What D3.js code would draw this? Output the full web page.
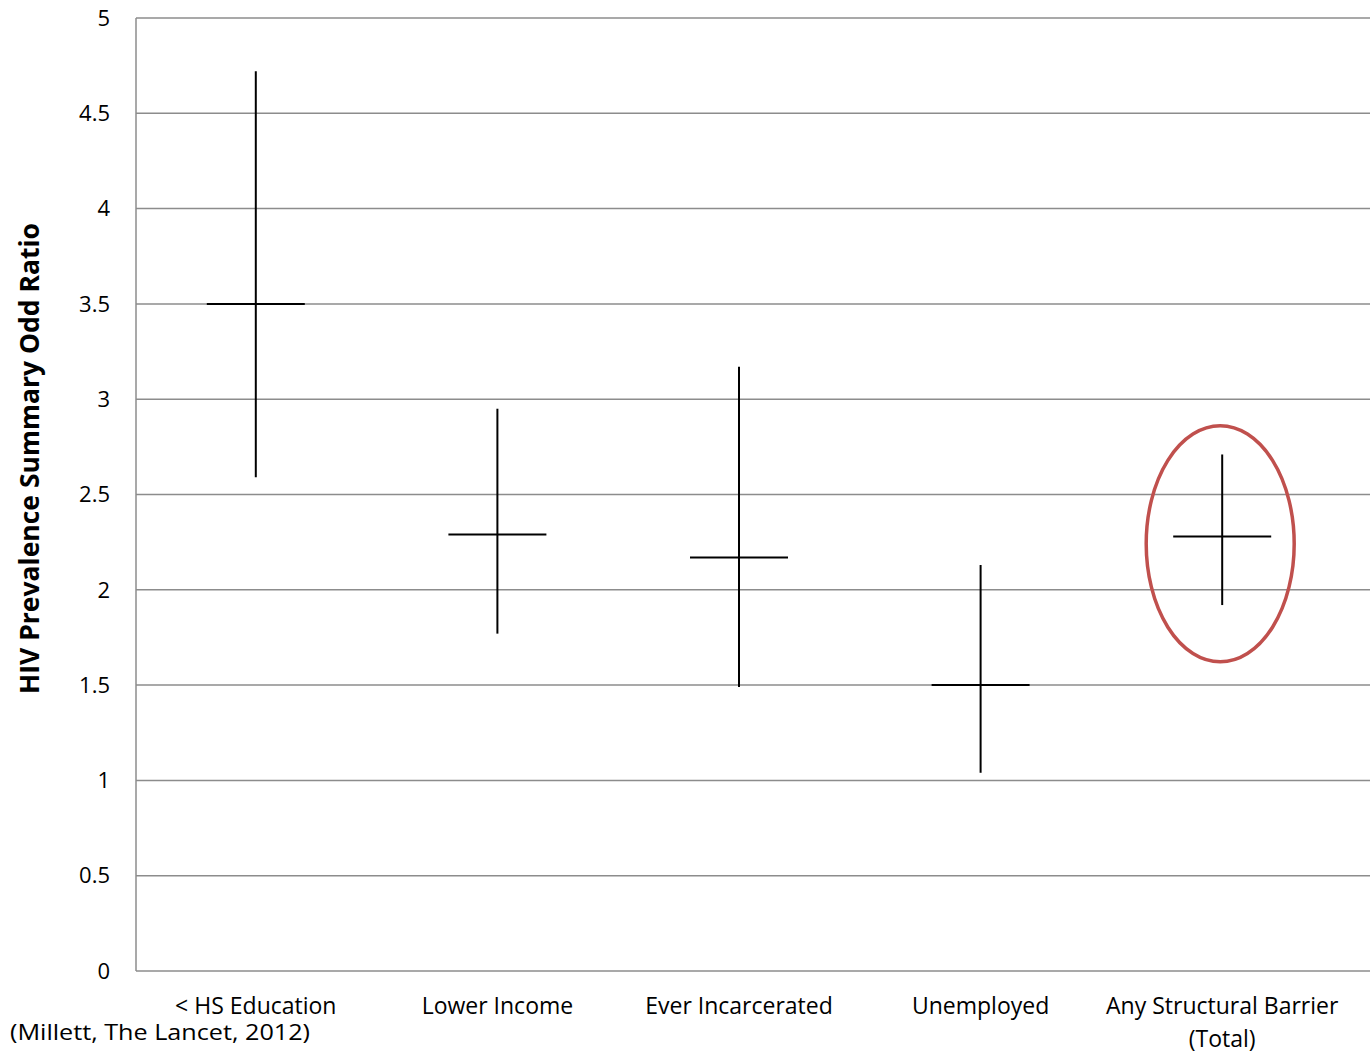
<!DOCTYPE html>
<html>
<head>
<meta charset="utf-8">
<script src="https://cdn.jsdelivr.net/npm/d3@7"></script>
<style>
  html, body { margin: 0; padding: 0; background: #fff; }
  svg { display: block; }
  text { font-family: "Open Sans", "Noto Sans", sans-serif; fill: #000; }
</style>
</head>
<body>
<svg id="chart" width="1370" height="1053"></svg>
<script>
// Summary odds ratios with confidence interval bounds per structural barrier
const categories = ["< HS Education", "Lower Income", "Ever Incarcerated", "Unemployed", "Any Structural Barrier|(Total)"];
const oddsRatio = [3.50, 2.29, 2.17, 1.50, 2.28];
const ciHigh    = [4.72, 2.95, 3.17, 2.13, 2.71];
const ciLow     = [2.59, 1.77, 1.49, 1.04, 1.92];
const yTicks    = [0, 0.5, 1, 1.5, 2, 2.5, 3, 3.5, 4, 4.5, 5];
const highlighted = "Any Structural Barrier|(Total)";

const svg = d3.select("#chart");
const plotLeft = 136, plotRight = 1370, plotTop = 18, plotBottom = 971;

const x = d3.scaleBand().domain(categories).range([135, 1343]);
const y = d3.scaleLinear().domain([0, 5]).range([plotBottom, plotTop]);

// Horizontal gridlines
svg.append("g").selectAll("line").data(yTicks).join("line")
  .attr("x1", plotLeft).attr("x2", plotRight)
  .attr("y1", d => y(d)).attr("y2", d => y(d))
  .attr("stroke", "#8c8c8c").attr("stroke-width", 1.5);

// Left axis line
svg.append("line")
  .attr("x1", plotLeft).attr("x2", plotLeft)
  .attr("y1", plotTop).attr("y2", plotBottom)
  .attr("stroke", "#8c8c8c").attr("stroke-width", 1.5);

// Y tick labels
svg.append("g").selectAll("text").data(yTicks).join("text")
  .attr("x", 110).attr("y", d => y(d))
  .attr("dy", "0.35em")
  .attr("text-anchor", "end")
  .attr("font-size", 22)
  .text(d => d);

// Y axis title
svg.append("text")
  .attr("transform", `translate(39, ${(222 + 695) / 2}) rotate(-90)`)
  .attr("text-anchor", "middle")
  .attr("font-size", 26.5)
  .attr("font-weight", "bold")
  .text("HIV Prevalence Summary Odd Ratio");

// Category labels (multi-line where split by "|")
const xl = svg.append("g").selectAll("text").data(categories).join("text")
  .attr("x", d => x(d) + x.bandwidth() / 2)
  .attr("y", 1014)
  .attr("text-anchor", "middle")
  .attr("font-size", 23);
xl.selectAll("tspan").data(d => d.split("|").map(t => ({ t, c: d }))).join("tspan")
  .attr("x", d => x(d.c) + x.bandwidth() / 2)
  .attr("dy", (d, i) => i === 0 ? 0 : 33)
  .text(d => d.t);

// Source note
svg.append("text")
  .attr("x", 10).attr("y", 1040)
  .attr("font-size", 22)
  .attr("textLength", 300)
  .attr("lengthAdjust", "spacingAndGlyphs")
  .text("(Millett, The Lancet, 2012)");

const rows = categories.map((c, i) => ({ c, or: oddsRatio[i], hi: ciHigh[i], lo: ciLow[i] }));
const cx = d => x(d.c) + x.bandwidth() / 2;

// Confidence interval whiskers
svg.append("g").selectAll("line").data(rows).join("line")
  .attr("x1", cx).attr("x2", cx)
  .attr("y1", d => y(d.hi)).attr("y2", d => y(d.lo))
  .attr("stroke", "#000").attr("stroke-width", 2);

// Point estimate markers
const half = 49;
svg.append("g").selectAll("line").data(rows).join("line")
  .attr("x1", d => cx(d) - half).attr("x2", d => cx(d) + half)
  .attr("y1", d => y(d.or)).attr("y2", d => y(d.or))
  .attr("stroke", "#000").attr("stroke-width", 2);

// Highlight ring around the aggregate estimate
const hl = rows.find(r => r.c === highlighted);
svg.append("ellipse")
  .attr("cx", cx(hl) - 2)
  .attr("cy", y((hl.hi + hl.lo) / 2) + 14)
  .attr("rx", 74).attr("ry", 118)
  .attr("fill", "none")
  .attr("stroke", "#c0504d")
  .attr("stroke-width", 3.5);
</script>
</body>
</html>
